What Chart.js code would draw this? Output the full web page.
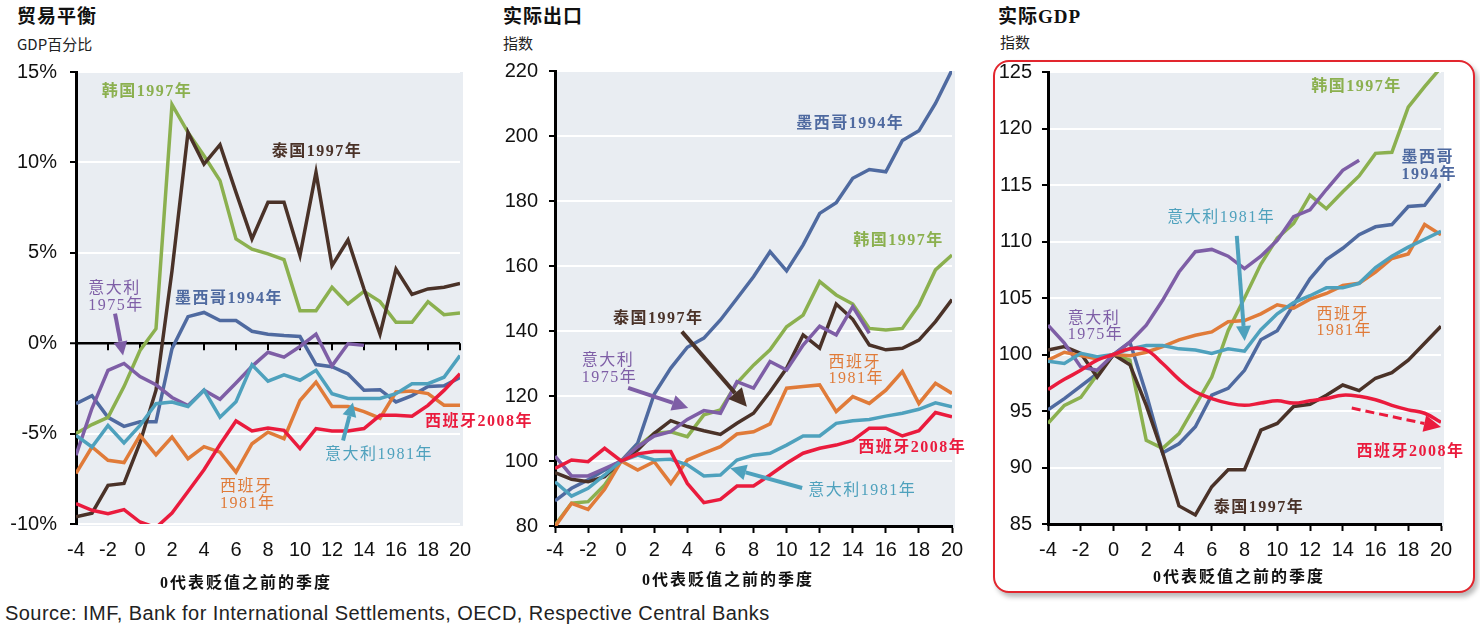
<!DOCTYPE html>
<html><head><meta charset="utf-8">
<script src="https://cdn.jsdelivr.net/npm/chart.js@4.4.1/dist/chart.umd.min.js"></script>
<style>
html,body{margin:0;padding:0;background:#fff}
body{width:1480px;height:636px;overflow:hidden;position:relative}
canvas{position:absolute}
.t{position:absolute;font-family:"Liberation Serif","Noto Sans CJK SC",serif;font-weight:bold;font-size:19px;line-height:19px;color:#111;letter-spacing:1px;white-space:nowrap}
.s{position:absolute;font-family:"Noto Sans CJK SC",sans-serif;font-size:15px;line-height:15px;color:#222;white-space:nowrap}
.ax{position:absolute;font-family:"Liberation Serif","Noto Sans CJK SC",serif;font-weight:bold;font-size:16px;line-height:16px;color:#111;letter-spacing:2px;white-space:nowrap;transform:translateX(-50%)}
#src{position:absolute;left:5px;top:603px;font-family:"Liberation Sans",Arial,sans-serif;font-size:20px;line-height:21px;letter-spacing:0.45px;color:#222;white-space:nowrap}
#frame{position:absolute;left:993px;top:60px;width:478px;height:529px;border:2px solid #e2262e;border-radius:16px;box-shadow:3px 4px 5px rgba(0,0,0,0.28);background:#fff}
</style></head>
<body>
<div class="t" style="left:17px;top:7px">贸易平衡</div>
<div class="s" style="left:17px;top:36px">GDP百分比</div>
<div class="t" style="left:503px;top:7px">实际出口</div>
<div class="s" style="left:503px;top:35px">指数</div>
<div id="frame"></div>
<div class="t" style="left:998px;top:7px">实际GDP</div>
<div class="s" style="left:1000px;top:34px">指数</div>
<canvas id="c1" width="560" height="540" style="left:0px;top:60px;width:560px;height:540px"></canvas>
<canvas id="c2" width="490" height="540" style="left:490px;top:60px;width:490px;height:540px"></canvas>
<canvas id="c3" width="488" height="530" style="left:985px;top:60px;width:488px;height:530px"></canvas>
<div class="ax" style="left:246px;top:575px">0代表贬值之前的季度</div>
<div class="ax" style="left:728px;top:572px">0代表贬值之前的季度</div>
<div class="ax" style="left:1239px;top:569px">0代表贬值之前的季度</div>
<div id="src">Source: IMF, Bank for International Settlements, OECD, Respective Central Banks</div>
<script>
// ---------- data ----------
const quarters = [-4,-3,-2,-1,0,1,2,3,4,5,6,7,8,9,10,11,12,13,14,15,16,17,18,19,20];
const xTicks = [-4,-2,0,2,4,6,8,10,12,14,16,18,20];

const seriesNames = ['西班牙2008年','意大利1981年','西班牙1981年','意大利1975年','泰国1997年','韩国1997年','墨西哥1994年'];
const seriesColors = ['#ea1b3d','#4ea1bd','#e07b39','#7e5ea6','#4a3228','#8bb04f','#4f6aa0'];

// 贸易平衡 (GDP %)
const tbYTicks = [-10,-5,0,5,10,15];
const tbSpain08 = [-8.87,-9.24,-9.43,-9.2,-9.89,-10.2,-9.4,-8.2,-7.0,-5.6,-4.3,-4.85,-4.69,-4.82,-5.83,-4.72,-4.85,-4.85,-4.72,-3.99,-3.99,-4.04,-3.44,-2.61,-1.69];
const tbItaly81 = [-5.1,-5.74,-4.55,-5.52,-4.55,-3.35,-3.25,-3.5,-2.6,-4.09,-3.24,-1.2,-2.1,-1.75,-2.05,-1.5,-2.79,-3.06,-3.06,-3.06,-2.79,-2.24,-2.24,-1.88,-0.68];
const tbSpain81 = [-7.2,-5.74,-6.48,-6.6,-5.1,-6.17,-5.19,-6.39,-5.72,-6.03,-7.13,-5.56,-4.92,-5.28,-3.17,-2.15,-3.5,-3.5,-3.78,-4.15,-2.7,-2.65,-2.79,-3.43,-3.43];
const tbItaly75 = [-6.2,-3.6,-1.5,-1.12,-1.85,-2.3,-3.0,-3.45,-2.6,-3.1,-2.2,-1.28,-0.5,-0.77,-0.18,0.5,-1.25,-0.03,-0.12,null,null,null,null,null,null];
const tbThailand = [-9.6,-9.4,-7.86,-7.76,-5.5,-2.6,4.0,11.66,9.91,10.98,8.34,5.77,7.79,7.79,4.85,9.45,4.29,5.71,3.0,0.5,4.1,2.7,3.0,3.1,3.3];
const tbKorea = [-5.0,-4.5,-4.1,-2.4,-0.4,0.8,13.2,11.66,10.37,8.99,5.77,5.2,4.94,4.62,1.8,1.8,3.09,2.17,2.87,2.3,1.16,1.16,2.3,1.58,1.67];
const tbMexico = [-3.35,-2.9,-4.1,-4.6,-4.35,-4.35,-0.3,1.47,1.7,1.25,1.25,0.66,0.5,0.42,0.37,-1.18,-1.3,-1.7,-2.6,-2.57,-3.25,-2.9,-2.4,-2.35,-1.9];

// 实际出口 (index)
const exYTicks = [80,100,120,140,160,180,200,220];
const exSpain08 = [97.7,100.3,99.8,103.9,100,102.2,102.9,102.9,93.1,87.2,88.2,92.3,92.3,95.7,99.3,102.4,103.9,104.9,106.3,110.1,110.1,107.7,109.3,114.9,113.6];
const exItaly81 = [93.6,89.2,91.6,95.7,100,101.8,100.3,100.5,98.8,95.4,95.7,100.3,101.8,102.4,104.9,107.7,107.7,111.6,112.4,112.8,113.8,114.7,115.9,117.9,116.7];
const exSpain81 = [79.8,87,85.1,91.3,100,97.2,99.8,93.1,100.3,102.4,104.4,108.3,109,111.4,122.4,122.9,123.4,115.2,119.8,117.7,121.8,127.5,117.7,123.9,120.8];
const exItaly75 = [101.5,95.4,95.4,97.7,100,104.4,107.7,109,112.8,115.5,114.7,124.4,122.4,130.6,128,135.7,141.5,138.8,147.5,139.3,null,null,null,null,null];
const exThailand = [96.4,94.4,93.6,95.2,100,103.4,108.5,112.4,110.6,109.3,108.2,111.6,114.7,121.3,128.5,138.8,134.7,148.3,143.6,135.7,134.2,134.7,137.2,142.9,149.7];
const exKorea = [80.3,87,87.5,92.6,100,104.4,108.5,109,107.5,114.2,115.7,124,129.5,134.2,141.3,144.9,155.2,151.1,148.3,140.8,140.3,140.8,148,158.8,163.4];
const exMexico = [87.7,91.6,94.2,97.2,100,105.5,120.6,128.6,135,137.8,143.4,150,156.7,164.4,158.5,166.5,176.2,179.5,187,189.7,189,198.6,201.6,210,220.3];

// 实际GDP (index)
const gdpYTicks = [85,90,95,100,105,110,115,120,125];
const gdpSpain08 = [96.9,97.8,98.6,99.5,100,100.5,100.4,99.2,97.8,96.7,96.1,95.7,95.5,95.7,95.9,95.7,95.9,96.1,96.4,96.3,96.0,95.5,95.1,94.8,94.0];
const gdpItaly81 = [99.4,99.2,100.1,99.8,100,100.5,100.8,100.8,100.5,100.4,100.1,100.5,100.3,102.2,103.6,104.6,105.2,105.9,105.9,106.3,107.7,108.7,109.5,110.2,110.9];
const gdpSpain81 = [99.5,100.2,99.9,99.6,100,99.9,100.2,100.7,101.3,101.7,102.0,102.9,103.0,103.6,104.4,104.1,104.9,105.4,106.1,106.3,107.3,108.5,108.9,111.5,110.6];
const gdpItaly75 = [102.6,101.0,98.9,98.6,100,101.1,102.6,104.8,107.3,109.1,109.3,108.7,107.6,108.7,110.1,112.2,112.8,114.6,116.3,117.2,null,null,null,null,null];
const gdpThailand = [100.4,100.7,100.1,98.0,100,99.1,95.5,91.3,86.6,85.8,88.3,89.8,89.8,93.3,93.9,95.4,95.6,96.4,97.3,96.8,97.9,98.4,99.5,101,102.5];
const gdpKorea = [93.9,95.5,96.2,98.2,100,99.5,92.4,91.7,93.0,95.5,98.0,102.1,105.0,108.0,110.3,111.6,114.1,112.9,114.4,115.8,117.8,117.9,121.9,123.7,125.4];
const gdpMexico = [95.1,96.1,97.2,98.3,100,101.1,96.5,91.3,92.1,93.6,96.4,97.0,98.6,101.3,102.1,104.4,106.7,108.4,109.4,110.6,111.3,111.5,113.1,113.2,115.1];

// ---------- drawing helpers ----------
const BG = '#e9edf2';
const LABEL_FONT = '"Liberation Serif","Noto Sans CJK SC",serif';

function drawArrow(ctx, x1, y1, x2, y2, color, width, head, dashed) {
  const ang = Math.atan2(y2 - y1, x2 - x1);
  const hl = head, hw = head * 0.5;
  const bx = x2 - hl * Math.cos(ang), by = y2 - hl * Math.sin(ang);
  ctx.save();
  ctx.strokeStyle = color; ctx.fillStyle = color; ctx.lineWidth = width;
  if (dashed) ctx.setLineDash([9, 5]);
  ctx.beginPath(); ctx.moveTo(x1, y1); ctx.lineTo(bx, by); ctx.stroke();
  ctx.setLineDash([]);
  ctx.beginPath();
  ctx.moveTo(x2, y2);
  ctx.lineTo(bx + hw * Math.sin(ang), by - hw * Math.cos(ang));
  ctx.lineTo(bx - hw * Math.sin(ang), by + hw * Math.cos(ang));
  ctx.closePath(); ctx.fill();
  ctx.restore();
}

const decor = {
  id: 'decor',
  beforeDraw(chart) {
    const {ctx, chartArea: a} = chart;
    ctx.save(); ctx.fillStyle = BG;
    ctx.fillRect(a.left, a.top, a.right - a.left + 3, a.bottom - a.top + 2);
    ctx.restore();
  },
  beforeDatasetsDraw(chart, args, o) {
    if (!o.zeroTicks) return;
    const {ctx} = chart; const xs = chart.scales.x, ys = chart.scales.y;
    const y0 = ys.getPixelForValue(0);
    ctx.save(); ctx.strokeStyle = '#000'; ctx.lineWidth = 2;
    xTicks.forEach(q => { if (q === -4) return; const x = xs.getPixelForValue(q); ctx.beginPath(); ctx.moveTo(x, y0); ctx.lineTo(x, y0 + 7); ctx.stroke(); });
    ctx.restore();
  },
  afterDatasetsDraw(chart, args, o) {
    const {ctx} = chart; const xs = chart.scales.x, ys = chart.scales.y;
    (o.arrows || []).forEach(a => {
      drawArrow(ctx, xs.getPixelForValue(a.from[0]), ys.getPixelForValue(a.from[1]),
        xs.getPixelForValue(a.to[0]), ys.getPixelForValue(a.to[1]), a.color, a.width || 4, a.head || 14, a.dashed);
    });
    (o.labels || []).forEach(l => {
      ctx.save();
      ctx.font = (l.bold ? 'bold ' : '') + '16px ' + LABEL_FONT;
      ctx.letterSpacing = '1.5px';
      ctx.fillStyle = l.color; ctx.textBaseline = 'middle'; ctx.textAlign = 'left';
      const x = xs.getPixelForValue(l.q); const y = ys.getPixelForValue(l.v);
      l.text.forEach((t, i) => ctx.fillText(t, x, y + i * 16.5));
      ctx.restore();
    });
  }
};

function makeChart(id, dataArrays, yTicks, opt) {
  const datasets = dataArrays.map((arr, i) => ({
    label: seriesNames[i],
    data: quarters.map((q, k) => ({x: q, y: arr[k]})),
    borderColor: seriesColors[i],
    backgroundColor: seriesColors[i],
    borderWidth: 3.5,
    pointRadius: 0,
    tension: (opt.smooth && i === 0) ? 0.4 : 0,
    fill: false,
    spanGaps: false
  }));
  return new Chart(document.getElementById(id), {
    type: 'line',
    data: {datasets},
    plugins: [decor],
    options: {
      responsive: false, animation: false, events: [],
      layout: {padding: {left: 0, top: opt.padTop, right: opt.padRight, bottom: 0}},
      plugins: {legend: {display: false}, tooltip: {enabled: false},
        decor: {labels: opt.labels, arrows: opt.arrows, zeroTicks: opt.zeroTicks}},
      scales: {
        x: {
          type: 'linear', min: -4, max: 20,
          afterBuildTicks: s => { s.ticks = xTicks.map(v => ({value: v})); },
          afterFit: s => { s.height = opt.xHeight; },
          ticks: {color: '#111', font: {family: '"Liberation Sans", Arial, sans-serif', size: 20}, padding: opt.xPad, maxRotation: 0, autoSkip: false},
          grid: opt.zeroTicks ? {display: false, drawTicks: false} : {drawOnChartArea: false, drawTicks: true, tickLength: 7, tickColor: '#000', tickWidth: 2},
          border: opt.zeroTicks ? {display: false} : {display: true, color: '#000', width: 3}
        },
        y: {
          min: yTicks[0], max: yTicks[yTicks.length - 1],
          afterBuildTicks: s => { s.ticks = yTicks.map(v => ({value: v})); },
          afterFit: s => { s.width = opt.yWidth; s.paddingTop = 0; s.paddingBottom = 0; },
          ticks: {color: '#111', font: {family: '"Liberation Sans", Arial, sans-serif', size: 20}, padding: opt.yPad, callback: opt.yFmt},
          grid: {
            color: c => (opt.zeroTicks && c.tick && c.tick.value === 0) ? '#000' : '#ffffff',
            lineWidth: c => (opt.zeroTicks && c.tick && c.tick.value === 0) ? 2.5 : 2,
            drawTicks: true, tickLength: 6, tickColor: '#000', tickWidth: 2
          },
          border: {display: true, color: '#000', width: 3}
        }
      }
    }
  });
}

const C = seriesColors;
makeChart('c1', [tbSpain08, tbItaly81, tbSpain81, tbItaly75, tbThailand, tbKorea, tbMexico], tbYTicks, {
  padTop: 12, padRight: 100, xHeight: 76, yWidth: 76, xPad: 14, yPad: 13, zeroTicks: true,
  yFmt: v => v + '%',
  labels: [
    {text: ['韩国1997年'], q: -2.39, v: 13.88, color: C[5], bold: true},
    {text: ['泰国1997年'], q: 8.23, v: 10.6, color: C[4], bold: true},
    {text: ['意大利', '1975年'], q: -3.23, v: 3.0, color: C[3]},
    {text: ['墨西哥1994年'], q: 2.19, v: 2.45, color: C[6], bold: true},
    {text: ['意大利1981年'], q: 11.56, v: -6.15, color: C[1]},
    {text: ['西班牙', '1981年'], q: 5.0, v: -7.96, color: C[2]},
    {text: ['西班牙2008年'], q: 17.81, v: -4.36, color: C[0], bold: true}
  ],
  arrows: [
    {from: [-1.56, 1.64], to: [-1.06, -0.68], color: C[3], head: 14},
    {from: [12.69, -5.38], to: [13.31, -3.28], color: C[1], head: 14}
  ]
});

makeChart('c2', [exSpain08, exItaly81, exSpain81, exItaly75, exThailand, exKorea, exMexico], exYTicks, {
  padTop: 11, padRight: 28, xHeight: 74, yWidth: 65, xPad: 5, yPad: 11, zeroTicks: false,
  yFmt: v => v,
  labels: [
    {text: ['墨西哥1994年'], q: 10.58, v: 203.7, color: C[6], bold: true},
    {text: ['韩国1997年'], q: 14.03, v: 167.7, color: C[5], bold: true},
    {text: ['泰国1997年'], q: -0.49, v: 143.7, color: C[4], bold: true},
    {text: ['意大利', '1975年'], q: -2.38, v: 130.8, color: C[3]},
    {text: ['西班牙', '1981年'], q: 12.54, v: 130.3, color: C[2]},
    {text: ['西班牙2008年'], q: 14.33, v: 104.15, color: C[0], bold: true},
    {text: ['意大利1981年'], q: 11.31, v: 90.83, color: C[1]}
  ],
  arrows: [
    {from: [3.67, 139.8], to: [7.6, 116.7], color: C[4], head: 18, width: 4},
    {from: [0.42, 122.5], to: [4.05, 116.3], color: C[3], head: 16, width: 4},
    {from: [10.94, 91.7], to: [6.59, 97.8], color: C[1], head: 16, width: 4}
  ]
});

makeChart('c3', [gdpSpain08, gdpItaly81, gdpSpain81, gdpItaly75, gdpThailand, gdpKorea, gdpMexico], gdpYTicks, {
  padTop: 12, padRight: 32, xHeight: 66, yWidth: 63, xPad: 7, yPad: 10, zeroTicks: false, smooth: true,
  yFmt: v => v,
  labels: [
    {text: ['韩国1997年'], q: 12.08, v: 123.72, color: C[5], bold: true},
    {text: ['墨西哥', '1994年'], q: 17.59, v: 117.39, color: C[6], bold: true},
    {text: ['意大利1981年'], q: 3.29, v: 112.08, color: C[1]},
    {text: ['意大利', '1975年'], q: -2.79, v: 103.18, color: C[3]},
    {text: ['西班牙', '1981年'], q: 12.4, v: 103.54, color: C[2]},
    {text: ['泰国1997年'], q: 6.12, v: 86.4, color: C[4], bold: true},
    {text: ['西班牙2008年'], q: 14.84, v: 91.4, color: C[0], bold: true}
  ],
  arrows: [
    {from: [7.53, 110.5], to: [8.01, 101.2], color: C[1], head: 15, width: 4},
    {from: [14.55, 95.26], to: [20.0, 93.58], color: C[0], head: 17, width: 3, dashed: true}
  ]
});
</script>
</body></html>
